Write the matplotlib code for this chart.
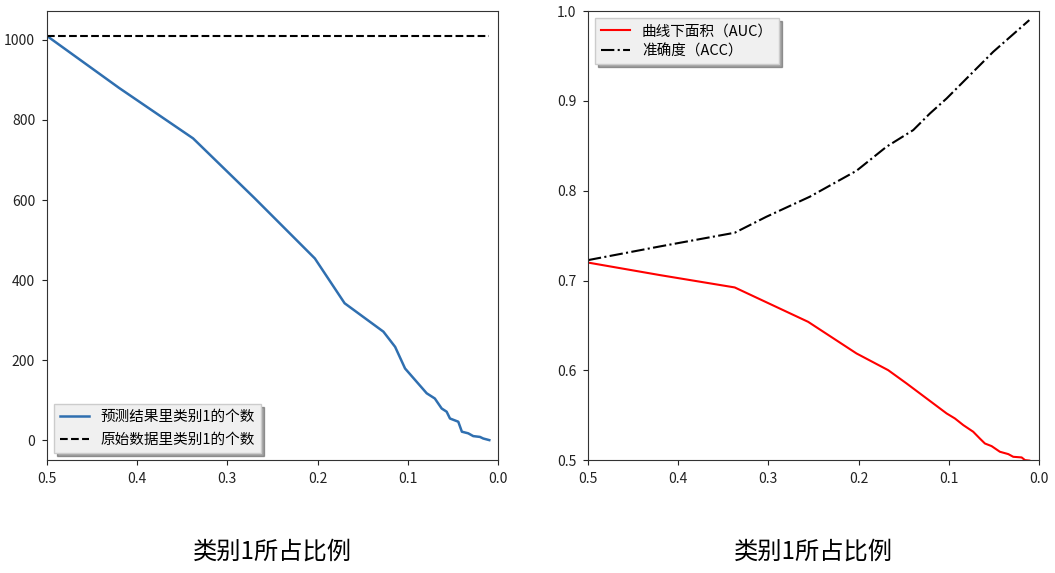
import matplotlib
matplotlib.use("Agg")
import matplotlib.pyplot as plt

plt.rcParams['font.family'] = ['Noto Sans CJK SC', 'DejaVu Sans']
plt.rcParams['axes.unicode_minus'] = False

# left panel: predicted count of class 1 vs. share of class 1
ratio_left = [0.5, 0.42, 0.338, 0.27, 0.203, 0.17, 0.127, 0.114, 0.103, 0.079, 0.070,
              0.0624, 0.0569, 0.0532, 0.044, 0.040, 0.033, 0.0274, 0.020, 0.0163, 0.0096]
pred_count = [1010, 880, 754, 605, 454, 342, 271, 233, 179, 117, 104,
              79, 71, 54, 46, 21, 17, 10, 8, 4, 0]
orig_count = [1010] * len(ratio_left)

# right panel: AUC and ACC vs. share of class 1
ratio_auc = [0.5, 0.42, 0.3373, 0.2559, 0.2023, 0.1672, 0.1468, 0.1024, 0.0932, 0.0839,
             0.0729, 0.0655, 0.0599, 0.0525, 0.0433, 0.034, 0.0285, 0.0192, 0.0155, 0.0107]
auc = [0.72, 0.706, 0.6923, 0.654, 0.6188, 0.6002, 0.5854, 0.552, 0.5464, 0.539,
       0.5316, 0.524, 0.5185, 0.5156, 0.5093, 0.5067, 0.5037, 0.503, 0.5, 0.4995]

ratio_acc = [0.5, 0.42, 0.3373, 0.3022, 0.2541, 0.2023, 0.169, 0.1394, 0.1209, 0.1024,
             0.0729, 0.0507, 0.0107]
acc = [0.7227, 0.738, 0.7532, 0.771, 0.7933, 0.8222, 0.849, 0.8675, 0.886, 0.9027,
       0.9324, 0.9547, 0.99]

fig = plt.figure(figsize=(10.55, 5.73), dpi=100)
ax1 = fig.add_axes([0.0445, 0.197, 0.4275, 0.7836])
ax2 = fig.add_axes([0.5573, 0.197, 0.4275, 0.7836])

ax1.plot(ratio_left, pred_count, color='#2f6fb0', lw=1.8, label='预测结果里类别1的个数')
ax1.plot(ratio_left, orig_count, 'k--', lw=1.5, label='原始数据里类别1的个数')
ax1.set_xlim(0.5, 0.0)
ax1.set_ylim(-50, 1072)
ax1.set_yticks([0, 200, 400, 600, 800, 1000])
ax1.set_xlabel('类别1所占比例', fontsize=17.5, labelpad=38)
ax1.legend(loc='lower left', shadow=True, fancybox=False, fontsize=10.5,
           labelspacing=0.6, facecolor='#f0f0f0')

ax2.plot(ratio_auc, auc, color='red', lw=1.5, label='曲线下面积（AUC）')
ax2.plot(ratio_acc, acc, 'k-.', lw=1.5, label='准确度（ACC）')
ax2.set_xlim(0.5, 0.0)
ax2.set_ylim(0.5, 1.0)
ax2.set_xlabel('类别1所占比例', fontsize=17.5, labelpad=38)
ax2.legend(loc='upper left', shadow=True, fancybox=False, fontsize=10.5,
           labelspacing=0.4, facecolor='#f0f0f0')

for ax in (ax1, ax2):
    for s in ax.spines.values():
        s.set_color('#333333')
    ax.tick_params(labelsize=10, colors='#222222', pad=5)

fig.savefig('out.png', dpi=100)
